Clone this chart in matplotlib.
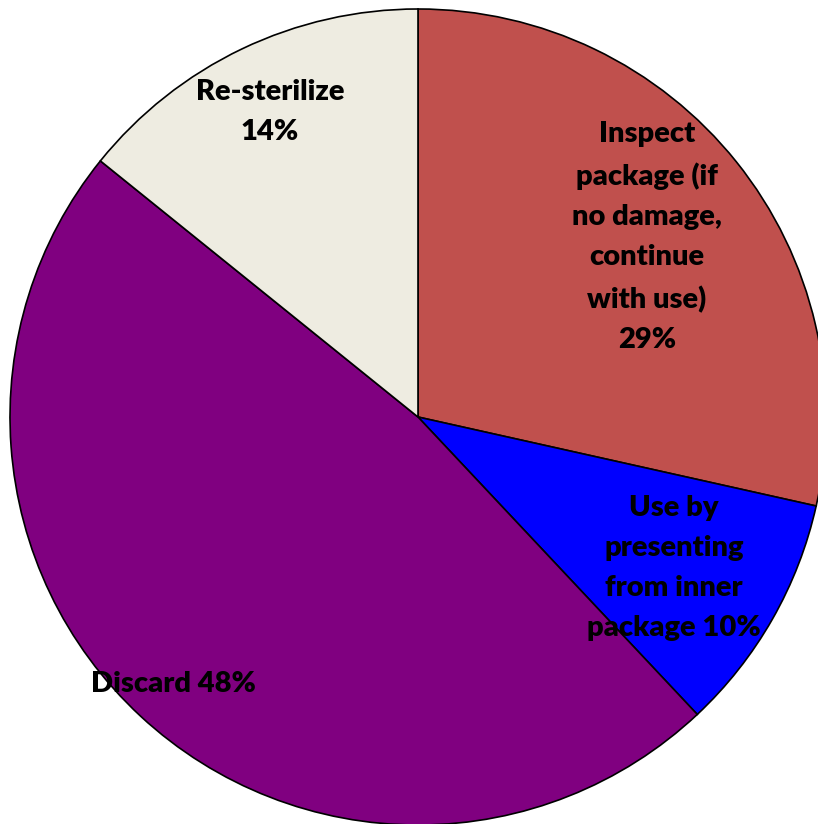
import matplotlib

matplotlib.use("Agg")
import matplotlib.pyplot as plt

# slice shares (clockwise from 12 o'clock)
categories = [
    "Inspect package (if no damage, continue with use)",
    "Use by presenting from inner package",
    "Discard",
    "Re-sterilize",
]
shares = [28.5, 9.5, 47.8, 14.2]
label_texts = [
    "Inspect\npackage (if\nno damage,\ncontinue\nwith use)\n29%",
    "Use by\npresenting\nfrom inner\npackage 10%",
    "Discard 48%",
    "Re-sterilize\n14%",
]
colors = ["#C0504D", "#0000FF", "#800080", "#EEECE1"]

W, H = 818, 824
CX, CY, R = 418, 417, 408  # pie centre / radius in pixels


def px(x, y):
    return (x - CX) / R, (CY - y) / R


fig = plt.figure(figsize=(W / 100, H / 100), dpi=100)
ax = fig.add_axes([0, 0, 1, 1])
ax.pie(
    shares,
    colors=colors,
    startangle=90,
    counterclock=False,
    radius=1,
    wedgeprops={"edgecolor": "black", "linewidth": 1.2},
)
ax.set_xlim(px(0, 0)[0], px(W, 0)[0])
ax.set_ylim(px(0, H)[1], px(0, 0)[1])
ax.set_aspect("equal")
ax.axis("off")

label_pos = [(647, 237), (674, 568), (173, 684), (270, 112)]
for text, (x, y) in zip(label_texts, label_pos):
    ax.text(*px(x, y), text, ha="center", va="center", fontsize=21,
            fontweight="heavy", family="Lato", linespacing=1.68)

fig.savefig("out.png", dpi=100)
